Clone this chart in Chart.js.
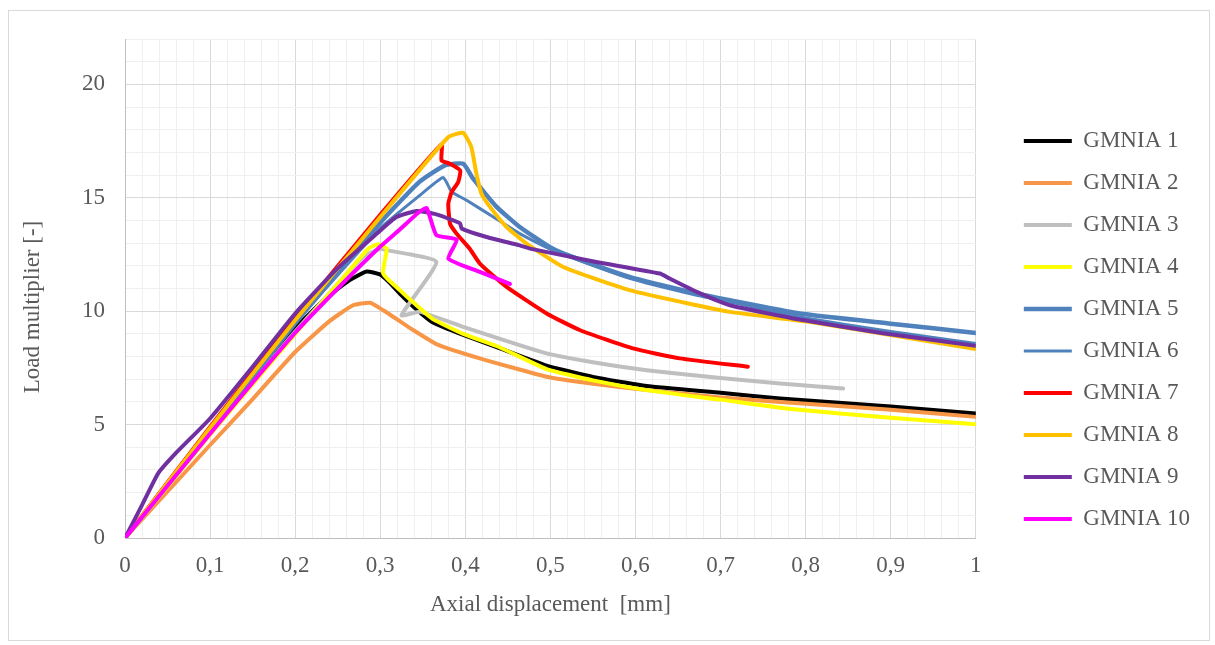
<!DOCTYPE html>
<html>
<head>
<meta charset="utf-8">
<script src="https://cdn.jsdelivr.net/npm/chart.js@4.4.1/dist/chart.umd.min.js"></script>
<style>
html,body{margin:0;padding:0;background:#fff;}
#wrap{position:relative;width:1215px;height:645px;}
</style>
</head>
<body>
<div id="wrap"><canvas id="c" width="1215" height="645"></canvas></div>
<script>
// ---- data ----
const seriesNames = ['GMNIA 1','GMNIA 2','GMNIA 3','GMNIA 4','GMNIA 5','GMNIA 6','GMNIA 7','GMNIA 8','GMNIA 9','GMNIA 10'];

const g1x = [0, 0.1, 0.2, 0.237, 0.264, 0.284, 0.2996, 0.31, 0.323, 0.342, 0.362, 0.3975, 0.4407, 0.4955, 0.55, 0.613, 0.7, 0.77, 0.9, 1];
const g1y = [0, 4.65, 9.25, 10.6, 11.37, 11.75, 11.62, 11.3, 10.78, 10.1, 9.5, 8.95, 8.36, 7.6, 7.1, 6.7, 6.4, 6.15, 5.8, 5.49];

const g2x = [0, 0.05, 0.1, 0.149, 0.2, 0.24, 0.268, 0.288, 0.3035, 0.327, 0.339, 0.366, 0.417, 0.4955, 0.55, 0.613, 0.7, 0.77, 0.9, 1];
const g2y = [0, 2.05, 4.1, 6.08, 8.2, 9.55, 10.26, 10.37, 10.04, 9.46, 9.16, 8.55, 7.92, 7.11, 6.8, 6.52, 6.2, 6.0, 5.65, 5.34];

const g3x = [0, 0.1, 0.2, 0.28, 0.3, 0.3075, 0.366, 0.325, 0.3467, 0.3975, 0.4955, 0.55, 0.613, 0.7, 0.77, 0.844];
const g3y = [0, 4.6, 9.1, 12.4, 12.75, 12.69, 12.17, 9.82, 9.97, 9.31, 8.14, 7.75, 7.4, 7.05, 6.81, 6.59];

const g4x = [0, 0.1, 0.2, 0.286, 0.2977, 0.3075, 0.3035, 0.323, 0.34, 0.362, 0.3975, 0.4407, 0.4955, 0.55, 0.613, 0.7, 0.78, 0.9, 1];
const g4y = [0, 4.55, 9.0, 12.76, 12.95, 12.76, 11.66, 10.93, 10.35, 9.65, 9.0, 8.4, 7.45, 6.95, 6.52, 6.1, 5.7, 5.3, 5.02];

const g5x = [0, 0.1, 0.2, 0.3, 0.346, 0.376, 0.3976, 0.409, 0.4368, 0.464, 0.499, 0.515, 0.593, 0.672, 0.711, 0.793, 0.9, 1];
const g5y = [0, 4.7, 9.46, 13.9, 15.7, 16.43, 16.5, 15.85, 14.6, 13.71, 12.83, 12.55, 11.51, 10.78, 10.48, 9.9, 9.45, 9.04];

const g6x = [0, 0.1, 0.2, 0.3, 0.3467, 0.374, 0.384, 0.4015, 0.433, 0.464, 0.499, 0.515, 0.593, 0.672, 0.711, 0.793, 0.9, 1];
const g6y = [0, 4.7, 9.46, 13.65, 15.11, 15.89, 15.26, 14.89, 14.15, 13.42, 12.75, 12.5, 11.45, 10.7, 10.4, 9.75, 9.1, 8.58];

const g7x = [0, 0.1, 0.2, 0.3, 0.372, 0.372, 0.382, 0.394, 0.3917, 0.384, 0.380, 0.382, 0.3897, 0.405, 0.417, 0.4485, 0.4955, 0.535, 0.597, 0.652, 0.732];
const g7y = [0, 4.9, 9.7, 14.25, 17.35, 16.65, 16.5, 16.2, 15.7, 15.26, 14.74, 13.86, 13.42, 12.76, 12.1, 11.07, 9.9, 9.16, 8.36, 7.92, 7.55];

const g8x = [0, 0.1, 0.2, 0.3, 0.38, 0.3975, 0.407, 0.413, 0.419, 0.429, 0.4485, 0.472, 0.515, 0.593, 0.672, 0.711, 0.8, 0.9, 1];
const g8y = [0, 4.85, 9.6, 14.15, 17.68, 17.86, 17.24, 16.07, 15.18, 14.6, 13.71, 12.98, 11.95, 10.93, 10.26, 9.97, 9.55, 8.95, 8.33];

const g9x = [0, 0.02, 0.039, 0.06, 0.1, 0.15, 0.2, 0.25, 0.296, 0.319, 0.343, 0.366, 0.386, 0.394, 0.3957, 0.425, 0.464, 0.476, 0.554, 0.6287, 0.64, 0.672, 0.711, 0.793, 0.891, 1];
const g9y = [0, 1.45, 2.85, 3.75, 5.27, 7.55, 9.9, 11.9, 13.42, 14.15, 14.42, 14.27, 14.0, 13.86, 13.64, 13.27, 12.9, 12.76, 12.17, 11.66, 11.44, 10.85, 10.26, 9.63, 9.03, 8.47];

const g10x = [0, 0.1, 0.2, 0.25, 0.3, 0.323, 0.345, 0.3545, 0.366, 0.39, 0.38, 0.417, 0.4524];
const g10y = [0, 4.6, 9.05, 11.0, 12.85, 13.6, 14.35, 14.55, 13.35, 13.15, 12.32, 11.73, 11.2];

const xMajorLabels = ['0','0,1','0,2','0,3','0,4','0,5','0,6','0,7','0,8','0,9','1'];
const yMajorLabels = ['0','5','10','15','20'];
const xTitle = 'Axial displacement  [mm]';
const yTitle = 'Load multiplier [-]';

// ---- styles ----
const colors = ['#000000','#F79646','#BFBFBF','#FFFF00','#4F81BD','#4F81BD','#FF0000','#FFC000','#7030A0','#FF00FF'];
const widths = [4,4,4,4,4.5,3,4,4,4,4];
const xs = [g1x,g2x,g3x,g4x,g5x,g6x,g7x,g8x,g9x,g10x];
const ys = [g1y,g2y,g3y,g4y,g5y,g6y,g7y,g8y,g9y,g10y];

const FONT = "'Liberation Serif', 'Times New Roman', serif";
const TXT = '#595959';

const datasets = seriesNames.map((name, i) => ({
  label: name,
  data: xs[i].map((x, k) => ({x: x, y: ys[i][k]})),
  borderColor: colors[i],
  backgroundColor: colors[i],
  borderWidth: widths[i],
  borderCapStyle: 'round',
  borderJoinStyle: 'round',
  showLine: true,
  pointRadius: 0,
  pointHoverRadius: 0,
  tension: 0.15,
  order: 10 - i
}));

const framePlugin = {
  id: 'frame',
  beforeDraw(chart) {
    const ctx = chart.ctx;
    ctx.save();
    ctx.fillStyle = '#ffffff';
    ctx.fillRect(0, 0, chart.width, chart.height);
    ctx.strokeStyle = '#D9D9D9';
    ctx.lineWidth = 1;
    ctx.strokeRect(8.5, 10.5, 1201, 630);
    ctx.restore();
  },
  afterDraw(chart) {
    const ctx = chart.ctx;
    ctx.save();
    ctx.translate(33, 307);
    ctx.rotate(-Math.PI / 2);
    ctx.font = '23px ' + FONT;
    ctx.fillStyle = TXT;
    ctx.textAlign = 'center';
    ctx.textBaseline = 'middle';
    ctx.fillText(yTitle, 0, 0);
    ctx.restore();
  }
};

new Chart(document.getElementById('c'), {
  type: 'scatter',
  data: { datasets },
  plugins: [framePlugin],
  options: {
    responsive: false,
    animation: false,
    events: [],
    layout: { padding: { left: 0, top: 39, right: 15, bottom: 24 } },
    plugins: {
      tooltip: { enabled: false },
      legend: {
        position: 'right',
        align: 'center',
        labels: {
          usePointStyle: true,
          pointStyle: 'line',
          pointStyleWidth: 48,
          boxHeight: 23,
          padding: 19,
          color: TXT,
          font: { family: FONT, size: 23 },
          sort: (a, b) => a.datasetIndex - b.datasetIndex
        }
      }
    },
    scales: {
      x: {
        type: 'linear',
        position: 'bottom',
        min: 0, max: 1,
        afterBuildTicks: (s) => { s.ticks = Array.from({length: 51}, (_, i) => ({value: i / 50})); },
        afterFit: (s) => { s.height = 83; },
        grid: {
          drawTicks: false,
          color: (c) => (c.index % 5 === 0 ? '#D9D9D9' : '#EFEFEF'),
          lineWidth: 1
        },
        border: { color: '#BFBFBF', width: 1 },
        ticks: {
          autoSkip: false, maxRotation: 0, padding: 14,
          color: TXT, font: { family: FONT, size: 23 },
          callback: (v, i) => (i % 5 === 0 ? xMajorLabels[i / 5] : '')
        },
        title: { display: true, text: xTitle, color: TXT, font: { family: FONT, size: 23 }, padding: { top: 0, bottom: 2 } }
      },
      y: {
        type: 'linear',
        position: 'left',
        min: 0, max: 22,
        afterBuildTicks: (s) => { s.ticks = Array.from({length: 23}, (_, i) => ({value: i})); },
        afterFit: (s) => { s.width = 125; },
        grid: {
          drawTicks: false,
          color: (c) => (c.index % 5 === 0 ? '#D9D9D9' : '#EFEFEF'),
          lineWidth: 1
        },
        border: { color: '#BFBFBF', width: 1 },
        ticks: {
          autoSkip: false, padding: 20,
          color: TXT, font: { family: FONT, size: 23 },
          callback: (v, i) => (i % 5 === 0 && i / 5 < yMajorLabels.length ? yMajorLabels[i / 5] : '')
        }
      },
      yR: {
        type: 'linear',
        position: 'right',
        display: true,
        grid: { display: false, drawTicks: false },
        border: { display: false },
        ticks: { display: false },
        afterFit: (s) => { s.width = 29; }
      }
    }
  }
});
</script>
</body>
</html>
